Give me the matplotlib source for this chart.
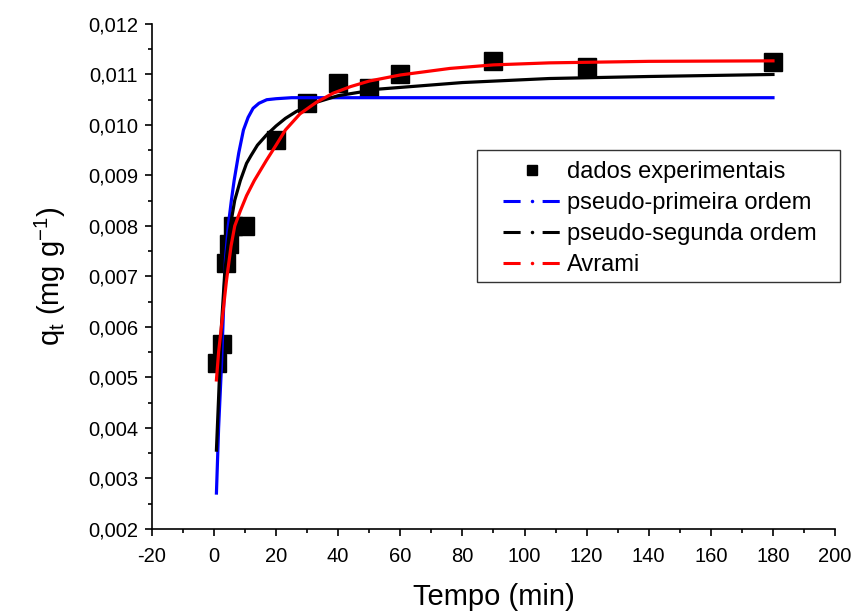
import matplotlib
matplotlib.use("Agg")
import matplotlib.pyplot as plt
from matplotlib.lines import Line2D
from matplotlib.patches import Rectangle
from matplotlib.ticker import FuncFormatter, MultipleLocator

plt.rcParams['font.family'] = ['Liberation Sans', 'DejaVu Sans']
plt.rcParams['axes.unicode_minus'] = False

# experimental points
tempo = [1, 2.5, 4, 5, 6, 10, 20, 30, 40, 50, 60, 90, 120, 180]
qt = [0.00529, 0.00566, 0.00727, 0.00765, 0.00800, 0.00800, 0.00970, 0.01043,
      0.01083, 0.01073, 0.01101, 0.01127, 0.01114, 0.01125]

# fitted curves
t_pp = [0.8, 1.5, 2.4, 3.0, 3.7, 4.6, 5.6, 6.5, 8, 9.5, 11, 12.6, 14.5, 17, 20, 25, 30, 40, 60, 100, 180]
q_pp = [0.00271, 0.0040, 0.0052, 0.0062, 0.00733, 0.0080, 0.0085, 0.0089, 0.00945, 0.0099,
        0.01015, 0.01033, 0.01043, 0.0105, 0.01052, 0.01054, 0.01054, 0.01054, 0.01054, 0.01054, 0.01054]

t_ps = [0.8, 1.5, 2.4, 3.5, 5, 6.7, 8.5, 10.5, 12, 14, 16.9, 20, 23, 26.6, 33, 40, 53, 80, 108, 140, 180]
q_ps = [0.00356, 0.0046, 0.0060, 0.0071, 0.0079, 0.00851, 0.0089, 0.00924, 0.0094, 0.0096,
        0.0098, 0.00998, 0.01013, 0.01027, 0.01045, 0.01058, 0.01071, 0.01084, 0.01092, 0.01096, 0.0110]

t_av = [0.8, 1.5, 2.4, 4, 5.5, 6.7, 8.5, 10.5, 13, 16.9, 20, 23, 27.7, 33, 38.4, 44, 50, 60, 76, 90, 108, 140, 180]
q_av = [0.00495, 0.0055, 0.0060, 0.0069, 0.0076, 0.0080, 0.0083, 0.0086, 0.0089, 0.0093,
        0.0096, 0.0099, 0.01022, 0.01045, 0.01063, 0.01076, 0.01087, 0.01099, 0.01112, 0.01119,
        0.01123, 0.01126, 0.01127]

labels = ['dados experimentais', 'pseudo-primeira ordem', 'pseudo-segunda ordem', 'Avrami']

fig = plt.figure(figsize=(8.53, 6.15), dpi=100)
ax = fig.add_axes([0.178, 0.140, 0.801, 0.821])

ax.plot(tempo, qt, 's', color='black', markersize=12.5, zorder=2)
ax.plot(t_pp, q_pp, '-', color='#0000ff', lw=2.3, zorder=3)
ax.plot(t_ps, q_ps, '-', color='black', lw=2.3, zorder=3)
ax.plot(t_av, q_av, '-', color='#ff0000', lw=2.3, zorder=4)

ax.set_xlim(-20, 200)
ax.set_ylim(0.002, 0.012)
ax.xaxis.set_major_locator(MultipleLocator(20))
ax.xaxis.set_minor_locator(MultipleLocator(10))
ax.yaxis.set_major_locator(MultipleLocator(0.001))
ax.yaxis.set_minor_locator(MultipleLocator(0.0005))
ax.xaxis.set_major_formatter(FuncFormatter(lambda v, p: f"{v:g}"))
ax.yaxis.set_major_formatter(FuncFormatter(lambda v, p: f"{v:.3f}".replace('.', ',')))

for s in ['top', 'right']:
    ax.spines[s].set_visible(False)
for s in ['left', 'bottom']:
    ax.spines[s].set_linewidth(1.2)
ax.tick_params(which='major', direction='out', length=5, width=1.2, labelsize=14.5)
ax.tick_params(axis='x', which='major', pad=8)
ax.tick_params(axis='y', which='major', pad=5)
ax.tick_params(which='minor', direction='out', length=3, width=1.2)

ax.set_xlabel('Tempo (min)', fontsize=21, labelpad=12)
ax.set_ylabel(r'q$_{\mathregular{t}}$ (mg g$^{\mathregular{-1}}$)', fontsize=21, labelpad=14)

# legend with separate frame
handles = [
    Line2D([], [], ls='none', marker='s', color='black', markersize=7),
    Line2D([], [], ls=(0, (5.6, 7.2)), lw=2.2, color='#0000ff', marker='o', markersize=1.5),
    Line2D([], [], ls=(0, (5.6, 7.2)), lw=2.2, color='black', marker='o', markersize=1.5),
    Line2D([], [], ls=(0, (5.6, 7.2)), lw=2.2, color='#ff0000', marker='o', markersize=1.5),
]
fig.legend(handles, labels, loc='upper left', bbox_to_anchor=(503 / 853, 1 - 161 / 615),
           bbox_transform=fig.transFigure, frameon=False, fontsize=17, numpoints=1,
           handlelength=2.42, handletextpad=0.3, labelspacing=0.38, borderpad=0, borderaxespad=0)
fig.patches.append(Rectangle((477 / 853, 1 - 282 / 615), 363 / 853, 132 / 615, fill=False,
                             lw=1.0, edgecolor='#333333', transform=fig.transFigure))

fig.savefig('out.png', dpi=100)
